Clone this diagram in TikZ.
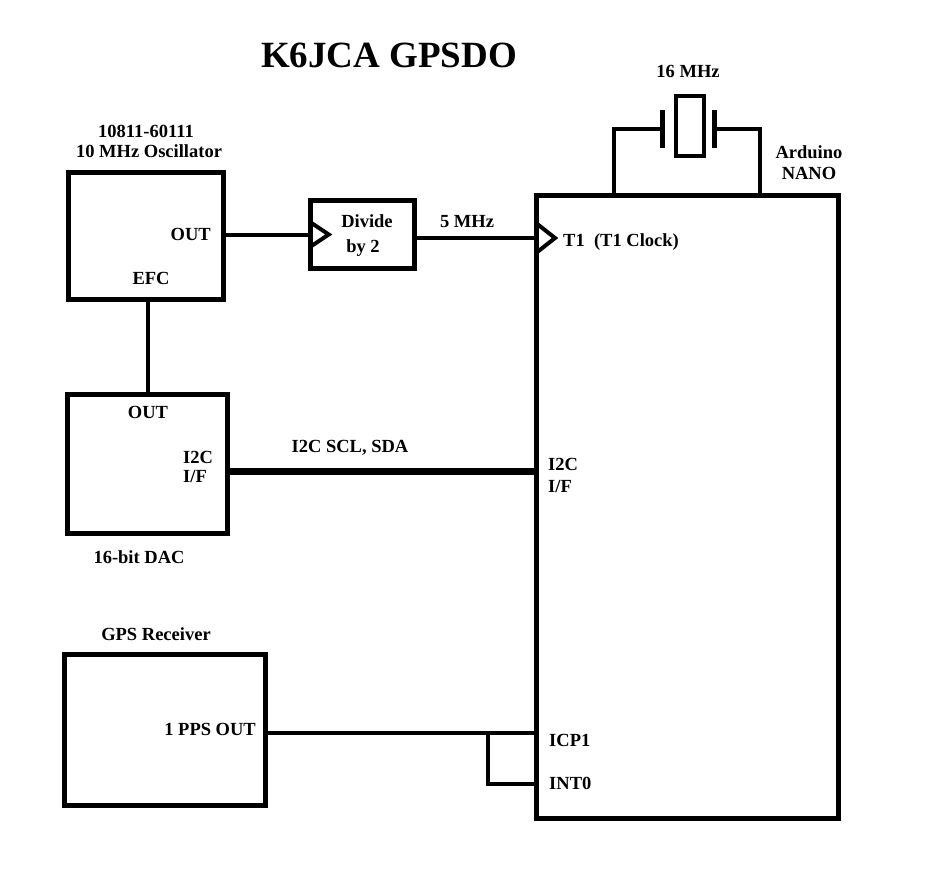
\documentclass[tikz,border=0pt]{standalone}
\usepackage{fontspec}
\setmainfont{Liberation Serif}
\usetikzlibrary{positioning}

\begin{document}
\begin{tikzpicture}[x=1pt, y=-1pt,
  font=\bfseries\fontsize{18.5}{20}\selectfont,
  blk/.style={draw, line width=5pt, inner sep=0pt, outer sep=0pt},
  wire/.style={line width=4pt},
  bus/.style={line width=7pt},
  plate/.style={line width=5pt},
  lbl/.style={inner sep=0pt, anchor=base}]
\useasboundingbox (0,0) rectangle (937,868);

\node[lbl, font=\bfseries\fontsize{37}{40}\selectfont] (title) at (389,67) {K6JCA GPSDO};

\node[blk, minimum width=155pt, minimum height=127pt] (osc) at (145.5,236) {};
\node[lbl] (oscname) at (146,137) {10811-60111};
\node[lbl] (oscname2) at (149,157) {10 MHz Oscillator};
\node[lbl, anchor=base east] (oscout) at (211,240) {OUT};
\node[lbl] (efc) at (151,284) {EFC};

\node[blk, minimum width=104pt, minimum height=68pt] (div) at (362.75,234.5) {};
\node[lbl] (divtxt) at (367,227) {Divide};
\node[lbl] (divtxt2) at (363,252) {by 2};

\node[blk, minimum width=302pt, minimum height=623pt] (nano) at (687,506.75) {};
\node[lbl] (nanoname) at (809,158) {Arduino};
\node[lbl] (nanoname2) at (809,179) {NANO};

\node[draw, line width=4.5pt, inner sep=0pt, minimum width=28pt, minimum height=60pt] (xtal) at (690,125.75) {};
\node[lbl] (xtalf) at (688,77) {16 MHz};

\node[blk, minimum width=160pt, minimum height=139pt] (dac) at (147,463.5) {};
\node[lbl] (dacout) at (148,418) {OUT};
\node[lbl, anchor=base west] (daci2c) at (183,463) {I2C};
\node[lbl, anchor=base west] (dacif) at (183,482) {I/F};
\node[lbl] (dacname) at (139,563) {16-bit DAC};

\node[blk, minimum width=201pt, minimum height=151pt] (gps) at (165,730) {};
\node[lbl] (gpsname) at (156,640) {GPS Receiver};
\node[lbl, anchor=base east] (pps) at (256,735) {1 PPS OUT};

\coordinate (t1pin) at (536,238);
\coordinate (i2cpin) at (536,471);
\coordinate (icp) at (536,733);
\coordinate (int0) at (536,784);
\coordinate (jog) at (488,733);
\coordinate (efcx) at (148,0);
\coordinate (pl) at (662,129);
\coordinate (pr) at (714,129);
\coordinate (xa) at (614,0);
\coordinate (xb) at (759.5,0);

\node[lbl, anchor=base west] (t1txt) at (563,246) {T1\ \ (T1 Clock)};
\node[lbl] (fivemhz) at (467,227) {5 MHz};
\node[lbl] (bustxt) at (350,452) {I2C SCL, SDA};
\node[lbl, anchor=base west] (nanoi2c) at (548,470) {I2C};
\node[lbl, anchor=base west] (nanoif) at (548,492) {I/F};
\node[lbl, anchor=base west] (icptxt) at (549,746) {ICP1};
\node[lbl, anchor=base west] (inttxt) at (549,789) {INT0};

\draw[wire] (osc.east |- div.west) -- (div.west);
\draw[wire] ([yshift=12pt]div.west) -- ([xshift=18pt]div.west) -- ([yshift=-12pt]div.west);
\draw[wire] (div.east |- t1pin) -- (t1pin);
\draw[wire] ([yshift=15pt]t1pin) -- ([xshift=19pt]t1pin) -- ([yshift=-15pt]t1pin);

\draw[wire] (nano.north -| xa) |- (pl);
\draw[wire] (nano.north -| xb) |- (pr);
\draw[plate] ([yshift=19pt]pl) -- ([yshift=-19pt]pl);
\draw[plate] ([yshift=19pt]pr) -- ([yshift=-19pt]pr);

\draw[wire] (osc.south -| efcx) -- (dac.north -| efcx);
\draw[bus] (dac.east |- i2cpin) -- (i2cpin);
\draw[wire] (gps.east |- icp) -- (icp);
\draw[wire] (jog) |- (int0);
\end{tikzpicture}
\end{document}
